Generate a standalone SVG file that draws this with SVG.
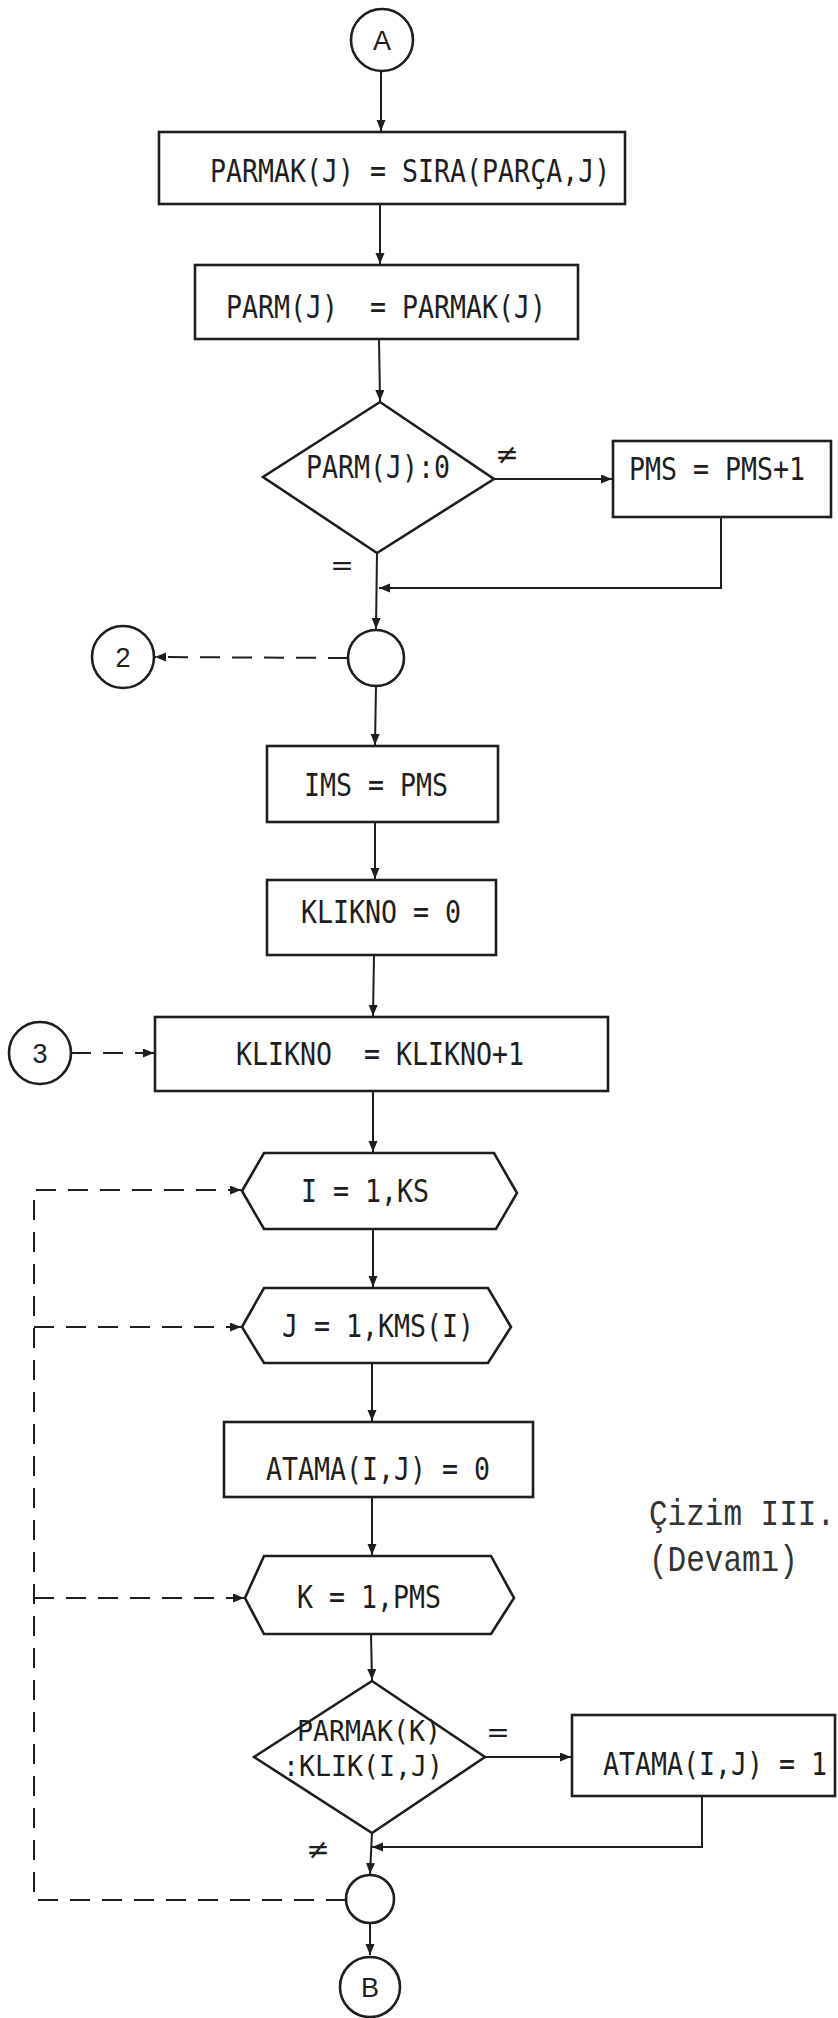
<svg xmlns="http://www.w3.org/2000/svg" width="838" height="2018" viewBox="0 0 838 2018">
<defs>
<marker id="arr" markerUnits="userSpaceOnUse" markerWidth="12" markerHeight="10" refX="11" refY="4.5" orient="auto">
<path d="M0,0 L11,4.5 L0,9 z" fill="#1e1e1e"/>
</marker>
<style>
.shape{fill:none;stroke:#1e1e1e;stroke-width:2.6;stroke-linejoin:miter}
.conn{fill:none;stroke:#1e1e1e;stroke-width:2}
.dash{fill:none;stroke:#1e1e1e;stroke-width:2;stroke-dasharray:20 12}
.t{font-family:"DejaVu Sans Mono","Liberation Mono",monospace;font-size:26.6px;fill:#1e1e1e}
.c{font-family:"Liberation Sans","DejaVu Sans",sans-serif;font-size:27px;fill:#1e1e1e;text-anchor:middle}
.lab{font-family:"DejaVu Sans",sans-serif;font-size:28px;fill:#1e1e1e;text-anchor:middle}
.cap{font-family:"Liberation Mono","DejaVu Sans Mono",monospace;font-size:31px;fill:#333}
</style>
</defs>
<rect width="838" height="2018" fill="#fff"/>

<g id="connectors">
<line class="conn" x1="381" y1="71" x2="381" y2="131" marker-end="url(#arr)"/>
<line class="conn" x1="380" y1="204" x2="380" y2="264" marker-end="url(#arr)"/>
<line class="conn" x1="379" y1="339" x2="380" y2="401" marker-end="url(#arr)"/>
<line class="conn" x1="494" y1="479" x2="612" y2="479" marker-end="url(#arr)"/>
<polyline class="conn" points="721,517 721,588 379,588" marker-end="url(#arr)"/>
<line class="conn" x1="377" y1="553" x2="376" y2="629" marker-end="url(#arr)"/>
<line class="dash" x1="348" y1="658" x2="155" y2="657" marker-end="url(#arr)"/>
<line class="conn" x1="376" y1="686" x2="375" y2="745" marker-end="url(#arr)"/>
<line class="conn" x1="375" y1="822" x2="375" y2="879" marker-end="url(#arr)"/>
<line class="conn" x1="374" y1="955" x2="373" y2="1016" marker-end="url(#arr)"/>
<line class="dash" x1="71" y1="1053" x2="154" y2="1053" marker-end="url(#arr)"/>
<line class="conn" x1="373" y1="1091" x2="373" y2="1152" marker-end="url(#arr)"/>
<line class="conn" x1="373" y1="1229" x2="373" y2="1287" marker-end="url(#arr)"/>
<line class="conn" x1="372" y1="1363" x2="372" y2="1421" marker-end="url(#arr)"/>
<line class="conn" x1="372" y1="1497" x2="372" y2="1555" marker-end="url(#arr)"/>
<line class="conn" x1="371" y1="1634" x2="372" y2="1680" marker-end="url(#arr)"/>
<line class="conn" x1="485" y1="1757" x2="571" y2="1757" marker-end="url(#arr)"/>
<polyline class="conn" points="702,1796 702,1847 372,1847" marker-end="url(#arr)"/>
<line class="conn" x1="372" y1="1833" x2="370" y2="1874" marker-end="url(#arr)"/>
<line class="conn" x1="370" y1="1923" x2="370" y2="1955" marker-end="url(#arr)"/>
<polyline class="dash" points="346,1900 34,1900 34,1190 241,1190" marker-end="url(#arr)"/>
<line class="dash" x1="34" y1="1327" x2="241" y2="1327" marker-end="url(#arr)"/>
<line class="dash" x1="34" y1="1598" x2="244" y2="1598" marker-end="url(#arr)"/>
</g>

<g id="labels">
<text class="lab" x="507" y="464">≠</text>
<text class="lab" x="342" y="575" font-size="18">=</text>
<text class="lab" x="498" y="1742" font-size="24">=</text>
<text class="lab" x="318" y="1859">≠</text>
</g>

<g id="nodeA"><circle class="shape" cx="382" cy="40" r="31"/><text class="c" x="382" y="50">A</text></g>

<g id="box1"><rect class="shape" x="159" y="132" width="466" height="72"/>
<text class="t" transform="translate(210,182) scale(1,1.18)">PARMAK(J) = SIRA(PARÇA,J)</text></g>

<g id="box2"><rect class="shape" x="195" y="265" width="383" height="74"/>
<text class="t" transform="translate(226,318) scale(1,1.18)" xml:space="preserve">PARM(J)  = PARMAK(J)</text></g>

<g id="dec1"><polygon class="shape" points="380,402 494,479 377,553 263,477"/>
<text class="t" transform="translate(306,478) scale(1,1.18)">PARM(J):0</text></g>

<g id="pms"><rect class="shape" x="613" y="441" width="218" height="76"/>
<text class="t" transform="translate(629,480) scale(1,1.18)">PMS = PMS+1</text></g>

<g id="junction1"><circle class="shape" cx="376" cy="658" r="28"/></g>

<g id="node2"><circle class="shape" cx="123" cy="657" r="31"/><text class="c" x="123" y="667">2</text></g>

<g id="ims"><rect class="shape" x="267" y="746" width="231" height="76"/>
<text class="t" transform="translate(304,796) scale(1,1.18)">IMS = PMS</text></g>

<g id="klikno0"><rect class="shape" x="267" y="880" width="229" height="75"/>
<text class="t" transform="translate(301,923) scale(1,1.18)">KLIKNO = 0</text></g>

<g id="node3"><circle class="shape" cx="40" cy="1053" r="31"/><text class="c" x="40" y="1063">3</text></g>

<g id="klikno1"><rect class="shape" x="155" y="1017" width="453" height="74"/>
<text class="t" transform="translate(236,1065) scale(1,1.18)" xml:space="preserve">KLIKNO  = KLIKNO+1</text></g>

<g id="loopI"><polygon class="shape" points="242,1191 264,1153 494,1153 517,1193 496,1229 264,1229"/>
<text class="t" transform="translate(301,1202) scale(1,1.18)">I = 1,KS</text></g>

<g id="loopJ"><polygon class="shape" points="242,1327 264,1288 488,1288 511,1327 488,1363 264,1363"/>
<text class="t" transform="translate(282,1337) scale(1,1.18)">J = 1,KMS(I)</text></g>

<g id="atama0"><rect class="shape" x="224" y="1422" width="309" height="75"/>
<text class="t" transform="translate(266,1480) scale(1,1.18)">ATAMA(I,J) = 0</text></g>

<g id="loopK"><polygon class="shape" points="245,1598 264,1556 491,1556 514,1598 491,1634 264,1634"/>
<text class="t" transform="translate(297,1608) scale(1,1.18)">K = 1,PMS</text></g>

<g id="dec2"><polygon class="shape" points="372,1681 485,1757 372,1833 254,1757"/>
<text class="t" transform="translate(297,1741) scale(1,1.08)">PARMAK(K)</text>
<text class="t" transform="translate(283,1776) scale(1,1.08)">:KLIK(I,J)</text></g>

<g id="atama1"><rect class="shape" x="572" y="1715" width="263" height="81"/>
<text class="t" transform="translate(603,1775) scale(1,1.18)">ATAMA(I,J) = 1</text></g>

<g id="junction2"><circle class="shape" cx="370" cy="1899" r="24"/></g>

<g id="nodeB"><circle class="shape" cx="370" cy="1987" r="30"/><text class="c" x="370" y="1997">B</text></g>

<g id="caption">
<text class="cap" transform="translate(649,1525) scale(1,1.2)">Çizim III.</text>
<text class="cap" transform="translate(649,1571) scale(1,1.2)">(Devamı)</text>
</g>
</svg>
